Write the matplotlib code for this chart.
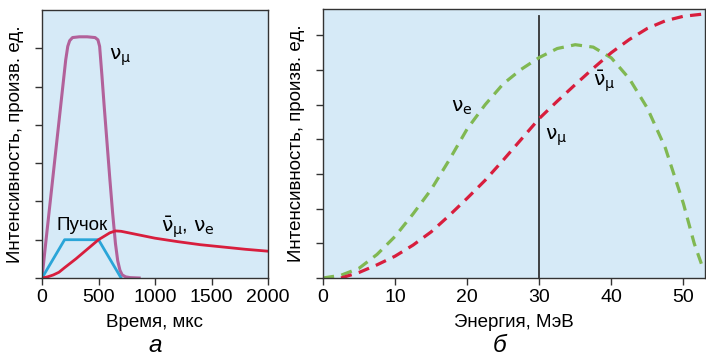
import matplotlib.pyplot as plt
import numpy as np

plt.rcParams['font.family'] = ['Liberation Sans', 'DejaVu Sans']
plt.rcParams['mathtext.fontset'] = 'dejavusans'

# panel a: time structure
t_numu = [0, 36, 73, 110, 147, 184, 210, 228, 245, 270, 330, 400, 470, 495, 510,
          530, 550, 575, 600, 625, 650, 670, 690, 710, 740, 780, 860]
numu_t = [0, 1.0, 2.0, 3.0, 4.0, 5.0, 5.7, 6.05, 6.2, 6.28, 6.3, 6.3, 6.28, 6.22, 6.05,
          5.3, 4.5, 3.55, 2.6, 1.7, 0.9, 0.45, 0.2, 0.08, 0.03, 0.01, 0]
t_beam = [0, 200, 500, 700]
beam = [0, 1.0, 1.0, 0]
t_late = [0, 50, 100, 150, 200, 300, 400, 500, 600, 650, 700, 800, 1000, 1200, 1400,
          1600, 1800, 2000]
late = [0, 0.03, 0.08, 0.15, 0.27, 0.5, 0.75, 1.0, 1.18, 1.23, 1.22, 1.16, 1.04,
        0.95, 0.87, 0.81, 0.75, 0.70]

# panel b: energy spectra
e_nue = [0, 2.5, 5, 7.5, 10, 12.5, 15, 17.5, 20, 22.5, 25, 27.5, 30, 32.5, 35, 37.5,
         40, 42.5, 45, 47.5, 50, 51.5, 52.6]
nue = [0, 0.08, 0.28, 0.68, 1.2, 1.85, 2.55, 3.4, 4.3, 5.0, 5.6, 6.02, 6.36, 6.62,
       6.73, 6.66, 6.35, 5.75, 4.9, 3.75, 2.15, 1.0, 0.35]
e_anumu = [2.5, 5, 7.5, 10, 12.5, 15, 17.5, 20, 22.5, 25, 27.5, 30, 32.5, 35, 37.5,
           40, 42.5, 45, 47.5, 50, 53]
anumu = [0, 0.16, 0.38, 0.63, 0.95, 1.33, 1.8, 2.3, 2.82, 3.4, 4.0, 4.6, 5.1, 5.58,
         6.05, 6.5, 6.88, 7.2, 7.42, 7.55, 7.62]
e_numu = 30

bg = '#d6eaf7'
purple = '#b2619a'
blue = '#2aa5d8'
red = '#d81e3d'
green = '#80b852'
dark = '#333333'
fs = 13.5

fig = plt.figure(figsize=(7.06, 3.58), dpi=100)
ax1 = fig.add_axes([42/706, 80/358, 226/706, 268/358])
ax2 = fig.add_axes([323/706, 80/358, 382/706, 269/358])

for ax in (ax1, ax2):
    ax.set_facecolor(bg)
    for s in ax.spines.values():
        s.set_color(dark)
        s.set_linewidth(1.0)
    ax.tick_params(axis='both', direction='out', length=5, width=1, color=dark,
                   labelsize=fs + 0.5, pad=3)
    ax.set_ylabel('Интенсивность, произв. ед.', fontsize=fs, labelpad=5)

# panel a
ax1.plot(t_numu, numu_t, color=purple, lw=2.2, solid_joinstyle='round')
ax1.plot(t_beam, beam, color=blue, lw=2.0)
ax1.plot(t_late, late, color=red, lw=2.0)
ax1.set_xlim(0, 2000)
ax1.set_ylim(0, 7)
ax1.set_xticks([0, 500, 1000, 1500, 2000])
ax1.set_yticks(range(0, 7))
ax1.set_yticklabels([])
ax1.text(590, 5.7, r'$\mathrm{\nu}_{\mathrm{\mu}}$', fontsize=fs + 1)
ax1.text(130, 1.25, 'Пучок', fontsize=fs)
ax1.text(1050, 1.2, r'$\bar{\mathrm{\nu}}_{\mathrm{\mu}}$, $\mathrm{\nu}_{\mathrm{e}}$',
         fontsize=fs + 1)
ax1.set_xlabel('Время, мкс', fontsize=fs, labelpad=6)
fig.text(155/706, 1 - 345/358, 'а', fontsize=fs + 4, style='italic',
         ha='center', va='center')

# panel b
ax2.axvline(e_numu, ymax=0.975, color=dark, lw=1.3)
ax2.plot(e_nue, nue, color=green, lw=2.3, dashes=(3.5, 2.3))
ax2.plot(e_anumu, anumu, color=red, lw=2.3, dashes=(3.5, 2.3))
ax2.set_xlim(0, 53)
ax2.set_ylim(0, 7.76)
ax2.set_xticks([0, 10, 20, 30, 40, 50])
ax2.set_yticks(range(0, 8))
ax2.set_yticklabels([])
ax2.text(17.8, 4.8, r'$\mathrm{\nu}_{\mathrm{e}}$', fontsize=fs + 1)
ax2.text(30.8, 4.0, r'$\mathrm{\nu}_{\mathrm{\mu}}$', fontsize=fs + 1)
ax2.text(37.4, 5.55, r'$\bar{\mathrm{\nu}}_{\mathrm{\mu}}$', fontsize=fs + 1)
ax2.set_xlabel('Энергия, МэВ', fontsize=fs, labelpad=6)
fig.text(500/706, 1 - 345/358, 'б', fontsize=fs + 4, style='italic',
         ha='center', va='center')

fig.savefig('out.png', dpi=100)
